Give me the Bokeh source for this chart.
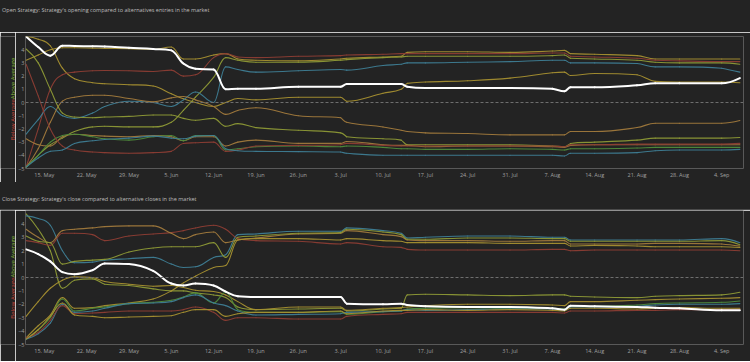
import math
import pandas as pd
from bokeh.plotting import figure
from bokeh.models import FixedTicker, Span, Range1d, CustomJSTickFormatter, Div, ColumnDataSource
from bokeh.core.properties import value
from bokeh.layouts import column, row
from bokeh.embed import file_html
from bokeh.resources import INLINE

# ---------------- data ----------------
DATES = ["2017-05-12", "2017-05-14", "2017-05-16", "2017-05-18", "2017-05-20", "2017-05-23",
         "2017-05-25", "2017-05-29", "2017-06-02", "2017-06-05", "2017-06-07", "2017-06-09",
         "2017-06-12", "2017-06-14", "2017-06-16", "2017-06-19", "2017-06-26", "2017-07-03",
         "2017-07-04", "2017-07-10", "2017-07-13", "2017-07-14", "2017-07-17", "2017-07-24",
         "2017-07-31", "2017-08-07", "2017-08-09", "2017-08-10", "2017-08-14", "2017-08-21",
         "2017-08-24", "2017-08-28", "2017-09-04", "2017-09-07"]

TICK_DATES = ["2017-05-15", "2017-05-22", "2017-05-29", "2017-06-05", "2017-06-12", "2017-06-19",
              "2017-06-26", "2017-07-03", "2017-07-10", "2017-07-17", "2017-07-24", "2017-07-31",
              "2017-08-07", "2017-08-14", "2017-08-21", "2017-08-28", "2017-09-04"]
TICK_LABELS = ["15. May", "22. May", "29. May", "5. Jun", "12. Jun", "19. Jun", "26. Jun",
               "3. Jul", "10. Jul", "17. Jul", "24. Jul", "31. Jul", "7. Aug", "14. Aug",
               "21. Aug", "28. Aug", "4. Sep"]
Y_TICKS = [-5, -4, -3, -2, -1, 0, 1, 2, 3, 4]

TOP_TITLE = "Open Strategy: Strategy's opening compared to alternatives entries in the market"
BOTTOM_TITLE = "Close Strategy: Strategy's close compared to alternative closes in the market"
AXIS_BELOW = "Below Average"
AXIS_ABOVE = "Above Average"

# Open strategy (top panel)
T_AVERAGE = [5.0, 4.2, 3.55, 4.3, 4.28, 4.26, 4.24, 4.14, 4.05, 3.95, 2.95, 2.55, 2.5, 1.0, 1.05, 1.05,
             1.2, 1.2, 1.4, 1.4, 1.4, 1.2, 1.1, 1.1, 1.1, 1.05, 0.85, 1.15, 1.15, 1.3, 1.45, 1.45, 1.45, 1.85]
T_GOLD1 = [5.0, 4.8, 4.3, 2.6, 1.8, 1.5, 1.42, 1.35, 1.25, 0.66, 0.28, 0.0, -0.3, 0.0, 0.3, 0.2,
           0.4, 0.4, 0.1, 0.7, 1.0, 1.45, 1.55, 1.65, 1.85, 2.25, 2.3, 2.05, 2.2, 2.1, 1.6, 1.55, 1.55, 1.5]
T_GOLD2 = [3.2, 3.6, 4.0, 4.15, 4.15, 4.12, 4.1, 4.08, 4.02, 4.2, 3.3, 3.3, 3.6, 3.7, 3.3, 3.2,
           3.15, 3.3, 3.35, 3.45, 3.5, 3.8, 3.85, 3.85, 3.8, 3.9, 3.95, 3.7, 3.65, 3.55, 3.3, 3.3, 3.3, 3.3]
T_RED1 = [-4.9, -2.0, 1.0, 2.1, 2.3, 2.4, 2.42, 2.4, 2.35, 2.45, 2.0, 2.1, 3.4, 3.7, 3.45, 3.4,
          3.5, 3.55, 3.6, 3.65, 3.7, 3.7, 3.7, 3.7, 3.7, 3.75, 3.75, 3.5, 3.45, 3.35, 3.2, 3.15, 3.1, 3.1]
T_OLIVE2 = [-4.9, -4.0, -3.2, -2.7, -2.2, -1.85, -1.8, -1.85, -1.85, -1.5, -0.6, 0.4, 1.9, 3.4, 3.2, 3.05,
            3.05, 3.2, 3.25, 3.4, 3.45, 3.5, 3.5, 3.5, 3.5, 3.55, 3.6, 3.35, 3.3, 3.2, 3.05, 3.0, 3.0, 2.9]
T_TEAL1 = [-2.4, -1.3, -0.3, -1.0, -1.2, -0.8, -0.3, 0.1, 0.0, -0.3, 0.2, 0.8, 0.0, 2.7, 2.5, 2.3,
           2.4, 2.5, 2.45, 2.8, 2.9, 3.0, 3.0, 3.05, 3.1, 3.2, 3.2, 3.0, 3.0, 2.95, 2.7, 2.7, 2.6, 2.3]
T_TAN1 = [-4.9, -3.5, -1.5, 0.1, 0.4, 0.55, 0.55, 0.3, 0.05, 0.35, 0.45, 0.2, -0.3, -0.9, -0.6, -0.4,
          -1.0, -1.15, -1.5, -1.85, -2.1, -2.2, -2.3, -2.35, -2.45, -2.45, -2.45, -2.2, -2.2, -1.9, -1.57,
          -1.57, -1.57, -1.36]
T_OLIVE1 = [4.05, 3.0, 1.0, -0.8, -1.1, -1.15, -1.1, -1.05, -0.95, -0.95, -1.2, -1.35, -1.2, -1.8, -1.6,
            -1.9, -2.1, -2.3, -2.6, -2.75, -2.85, -3.2, -3.2, -3.2, -3.2, -3.3, -3.35, -3.1, -3.0, -2.85,
            -2.7, -2.7, -2.7, -2.65]
T_ORANGE = [-2.75, -3.2, -3.3, -2.6, -2.4, -2.5, -2.55, -2.6, -2.5, -2.6, -2.9, -2.6, -2.6, -3.3, -3.0,
            -2.85, -3.1, -3.1, -2.95, -3.2, -3.25, -3.25, -3.35, -3.3, -3.3, -3.35, -3.4, -3.25, -3.2,
            -3.2, -3.2, -3.2, -3.2, -3.2]
T_GREEN2 = [-4.9, -4.0, -3.0, -2.5, -2.4, -2.6, -2.75, -2.85, -2.6, -2.5, -2.9, -2.5, -2.5, -3.6, -3.5,
            -3.35, -3.3, -3.35, -3.3, -3.4, -3.5, -3.5, -3.55, -3.55, -3.5, -3.55, -3.6, -3.5, -3.5,
            -3.45, -3.4, -3.4, -3.4, -3.4]
T_RED2 = [2.9, 0.5, -2.0, -3.3, -3.6, -3.75, -3.8, -3.85, -3.8, -3.7, -3.1, -3.05, -3.0, -3.7, -3.6,
          -3.3, -3.25, -3.2, -3.1, -3.25, -3.3, -3.3, -3.3, -3.3, -3.3, -3.3, -3.35, -3.2, -3.2, -3.15,
          -3.15, -3.15, -3.15, -3.1]
T_TEAL2 = [-4.9, -4.2, -3.7, -3.6, -3.1, -2.9, -2.8, -2.7, -2.55, -2.7, -2.75, -2.55, -2.5, -3.5, -3.65,
           -3.7, -3.72, -3.75, -3.85, -4.0, -4.0, -4.0, -4.0, -4.0, -4.0, -4.0, -4.05, -3.85, -3.85,
           -3.8, -3.65, -3.6, -3.6, -3.55]

# Close strategy (bottom panel)
B_AVERAGE = [2.1, 1.75, 1.2, 0.4, 0.25, 0.55, 1.05, 1.0, 0.5, -0.45, -0.6, -0.45, -0.6, -1.05, -1.4,
             -1.45, -1.45, -1.45, -1.95, -2.0, -1.95, -2.05, -2.15, -2.2, -2.2, -2.3, -2.4, -2.1, -2.15,
             -2.2, -2.25, -2.3, -2.45, -2.45]
B_GOLD_A = [4.75, 3.6, 2.0, -0.8, -0.2, -0.1, -0.5, -0.6, -0.85, -1.0, -1.0, -1.15, -1.3, -1.5, -2.2,
            -2.4, -2.35, -2.3, -2.5, -2.35, -2.3, -1.3, -1.25, -1.3, -1.35, -1.3, -1.3, -1.4, -1.45,
            -1.5, -1.4, -1.35, -1.3, -1.1]
B_TEAL_A = [4.6, 4.4, 3.9, 2.0, 1.1, 1.15, 1.3, 1.4, 1.5, 1.0, 0.75, 0.8, 1.5, 1.7, 3.2, 3.25,
            3.45, 3.45, 3.7, 3.5, 3.3, 2.95, 3.0, 3.1, 3.1, 3.0, 3.0, 2.8, 2.8, 2.8, 2.8, 2.8, 2.9, 2.6]
B_RED_A = [2.75, 2.6, 2.4, 3.3, 3.3, 3.2, 2.75, 3.1, 3.25, 3.35, 3.5, 3.7, 3.9, 3.6, 2.9, 2.75,
           2.7, 2.5, 2.6, 2.3, 2.25, 2.1, 2.05, 2.05, 2.05, 2.1, 2.1, 2.0, 2.05, 2.05, 2.05, 2.05, 2.05, 2.0]
B_GOLD_B = [3.6, 3.0, 2.6, 3.5, 3.6, 3.7, 3.8, 3.85, 3.85, 3.3, 2.9, 3.2, 3.4, 2.6, 2.8, 2.95,
            3.25, 3.3, 3.5, 3.2, 3.05, 2.8, 2.75, 2.75, 2.7, 2.75, 2.75, 2.5, 2.5, 2.5, 2.55, 2.55, 2.5, 2.35]
B_OLIVE_A = [3.1, 2.7, 2.6, 1.0, 1.2, 1.3, 1.35, 1.9, 2.2, 2.3, 2.3, 2.3, 2.6, 1.5, 3.0, 3.1,
             3.3, 3.35, 3.6, 3.4, 3.2, 2.85, 2.85, 2.95, 2.95, 2.9, 2.9, 2.7, 2.7, 2.7, 2.7, 2.7, 2.75, 2.45]
B_ORANGE = [-4.5, -3.6, -2.8, -1.5, -2.3, -2.25, -2.1, -1.9, -1.6, -1.0, -0.4, 0.1, 0.75, 0.9, 2.8, 2.9,
            2.9, 2.8, 2.9, 2.75, 2.7, 2.6, 2.6, 2.6, 2.55, 2.55, 2.55, 2.35, 2.4, 2.35, 2.3, 2.3, 2.3, 2.25]
B_OLIVE_B = [-2.9, -1.8, -0.8, -0.2, 0.05, 0.0, -0.3, -0.5, -0.65, -0.6, -0.75, -0.95, -1.05, -1.3, -1.8,
             -2.4, -2.2, -2.2, -2.45, -2.3, -2.25, -2.2, -2.1, -2.0, -2.0, -2.05, -2.1, -1.8, -1.8, -1.7,
             -1.65, -1.6, -1.55, -1.5]
B_GREEN_A = [-4.6, -3.9, -3.0, -1.6, -2.5, -2.3, -2.2, -1.95, -1.85, -1.7, -1.45, -1.15, -1.9, -1.1, -2.4,
             -2.6, -2.6, -2.55, -2.75, -2.55, -2.5, -2.35, -2.3, -2.25, -2.3, -2.3, -2.35, -2.15, -2.15,
             -2.05, -1.95, -1.9, -1.85, -1.75]
B_TEAL_B = [-4.6, -4.2, -3.4, -2.0, -2.6, -2.5, -2.3, -1.95, -1.9, -1.8, -1.5, -1.3, -1.9, -2.1, -2.5,
            -2.8, -2.75, -2.7, -2.6, -2.55, -2.5, -2.4, -2.45, -2.4, -2.35, -2.35, -2.4, -2.2, -2.2,
            -2.15, -2.05, -2.0, -2.0, -1.95]
B_RED_B = [-4.5, -4.1, -3.2, -2.1, -2.7, -2.65, -2.6, -2.5, -2.5, -2.5, -2.4, -2.2, -2.6, -3.2, -3.0,
           -3.0, -3.1, -3.1, -2.9, -2.75, -2.7, -2.6, -2.6, -2.6, -2.6, -2.6, -2.65, -2.5, -2.5, -2.45,
           -2.45, -2.4, -2.4, -2.35]
B_GOLD_C = [-4.6, -3.9, -2.9, -1.9, -2.8, -2.9, -3.0, -2.95, -2.9, -2.85, -2.6, -2.4, -2.4, -2.9, -2.7,
            -2.6, -2.6, -2.5, -2.7, -2.5, -2.45, -2.45, -2.4, -2.45, -2.4, -2.45, -2.5, -2.3, -2.3,
            -2.35, -2.3, -2.25, -2.3, -2.3]

# ---------------- styling ----------------
BG = "#232323"
GOLD = "#a58f30"
OLIVE = "#8d9936"
TAN = "#a0793c"
RED = "#8c3d34"
TEAL = "#3e7d94"
GREEN = "#4f8b3b"
FONT = "Open Sans"
DAY_MS = 86400000.0


def to_ms(s):
    return pd.Timestamp(s).value / 1e6


X = [to_ms(d) for d in DATES]
TICKS_MS = [to_ms(d) for d in TICK_DATES]
X0 = X[0] - 0.1 * DAY_MS
X1 = X[-1] + 0.6 * DAY_MS

TOP_LINES = [(T_GOLD1, GOLD), (T_GOLD2, GOLD), (T_RED1, RED), (T_OLIVE2, OLIVE), (T_TEAL1, TEAL),
             (T_TAN1, TAN), (T_OLIVE1, OLIVE), (T_ORANGE, TAN), (T_GREEN2, GREEN), (T_RED2, RED),
             (T_TEAL2, TEAL)]
BOTTOM_LINES = [(B_GOLD_A, OLIVE), (B_TEAL_A, TEAL), (B_RED_A, RED), (B_GOLD_B, TAN), (B_OLIVE_A, OLIVE),
                (B_ORANGE, GOLD), (B_OLIVE_B, GOLD), (B_GREEN_A, GREEN), (B_TEAL_B, TEAL), (B_RED_B, RED),
                (B_GOLD_C, GOLD)]


def spline_source(xs, ys):
    """Spline segments through the data points (same rule as a 'spline' series):
    each point gets a left/right control point, no extra data points are added."""
    n = len(xs)
    sm = 1.5
    den = sm + 1
    left = [None] * n
    right = [None] * n
    for i in range(n):
        px, py = xs[i], ys[i]
        if i == 0 or i == n - 1:
            left[i] = (px, py)
            right[i] = (px, py)
            continue
        lx, ly = xs[i - 1], ys[i - 1]
        nx, ny = xs[i + 1], ys[i + 1]
        lcx = (sm * px + lx) / den
        lcy = (sm * py + ly) / den
        rcx = (sm * px + nx) / den
        rcy = (sm * py + ny) / den
        if rcx != lcx:
            corr = (rcy - lcy) * (rcx - px) / (rcx - lcx) + py - rcy
            lcy += corr
            rcy += corr
            if lcy > ly and lcy > py:
                lcy = max(ly, py)
                rcy = 2 * py - lcy
            elif lcy < ly and lcy < py:
                lcy = min(ly, py)
                rcy = 2 * py - lcy
            if rcy > ny and rcy > py:
                rcy = max(ny, py)
                lcy = 2 * py - rcy
            elif rcy < ny and rcy < py:
                rcy = min(ny, py)
                lcy = 2 * py - rcy
        left[i] = (lcx, lcy)
        right[i] = (rcx, rcy)
    data = dict(x0=[], y0=[], x1=[], y1=[], cx0=[], cy0=[], cx1=[], cy1=[])
    for i in range(1, n):
        data["x0"].append(xs[i - 1])
        data["y0"].append(ys[i - 1])
        data["x1"].append(xs[i])
        data["y1"].append(ys[i])
        data["cx0"].append(right[i - 1][0])
        data["cy0"].append(right[i - 1][1])
        data["cx1"].append(left[i][0])
        data["cy1"].append(left[i][1])
    return ColumnDataSource(data)


def title_div(text, height, pad_top, border):
    inner = ("font-family:'Open Sans';font-size:5.5px;line-height:7px;color:#bdbdbd;"
             f"padding:{pad_top}px 0 0 2px;white-space:nowrap;margin:0;")
    styles = {"background-color": BG, "box-sizing": "border-box", "margin": "0px"}
    if border:
        styles["border-bottom"] = "1px solid #4a4a4a"
    return Div(text=f'<div style="{inner}">{text}</div>', width=750, height=height, styles=styles,
               margin=0)


def label_fig(height, top, bottom, junction):
    p = figure(width=15, height=height, output_backend="svg", toolbar_location=None,
               x_range=Range1d(0, 15), y_range=Range1d(-5, 5), x_axis_location=None,
               y_axis_location=None, background_fill_color=BG, border_fill_color=BG,
               outline_line_color=None, min_border_left=0, min_border_right=0,
               min_border_top=top, min_border_bottom=bottom, margin=0)
    p.grid.visible = False
    p.text(x=[12], y=[junction], text=[AXIS_BELOW], angle=math.pi / 2, text_align="right",
           text_baseline="middle", text_color="#c8433a", text_font=value(FONT), text_font_size="6px")
    p.text(x=[12], y=[junction], text=[AXIS_ABOVE], angle=math.pi / 2, text_align="left",
           text_baseline="middle", text_color="#86b83c", text_font=value(FONT), text_font_size="6px")
    return p


def make_panel(lines, avg, height, top, bottom):
    p = figure(width=735, height=height, x_axis_type="datetime", output_backend="svg",
               toolbar_location=None, x_range=Range1d(X0, X1), y_range=Range1d(-5, 5),
               background_fill_color=BG, border_fill_color=BG, outline_line_color=None,
               min_border_left=7, min_border_right=7, min_border_top=top, min_border_bottom=bottom,
               margin=0)
    p.grid.visible = False

    xa = p.xaxis[0]
    xa.ticker = FixedTicker(ticks=TICKS_MS)
    xa.formatter = CustomJSTickFormatter(args=dict(tick_vals=TICKS_MS, tick_names=TICK_LABELS), code="""
        for (let i = 0; i < tick_vals.length; i++) {
            if (Math.abs(tick_vals[i] - tick) < 3600000) { return tick_names[i]; }
        }
        return "";
    """)
    ya = p.yaxis[0]
    ya.ticker = FixedTicker(ticks=Y_TICKS)
    for ax in (xa, ya):
        ax.axis_line_color = None
        ax.major_tick_line_color = None
        ax.minor_tick_line_color = None
        ax.major_tick_out = 0
        ax.major_tick_in = 0
        ax.minor_tick_out = 0
        ax.minor_tick_in = 0
        ax.major_label_text_font = FONT
        ax.major_label_text_font_size = "5.5px"
        ax.major_label_text_color = "#a0a0a0"
    xa.major_label_standoff = 2
    ya.major_label_standoff = 1

    p.add_layout(Span(location=0, dimension="width", line_color="#6e6e6e", line_width=1, line_dash="3 2"))

    for vals, col in lines:
        p.bezier(x0="x0", y0="y0", x1="x1", y1="y1", cx0="cx0", cy0="cy0", cx1="cx1", cy1="cy1",
                 source=spline_source(X, vals), line_color=col, line_width=1.1, line_alpha=0.95,
                 line_cap="round")
    p.bezier(x0="x0", y0="y0", x1="x1", y1="y1", cx0="cx0", cy0="cy0", cx1="cx1", cy1="cy1",
             source=spline_source(X, avg), line_color="#ffffff", line_width=2, line_cap="round")
    return p


d1 = title_div(TOP_TITLE, 32, 2, False)
p1 = make_panel(TOP_LINES, T_AVERAGE, 150, 4, 14)
l1 = label_fig(150, 4, 14, 0.25)
d2 = title_div(BOTTOM_TITLE, 28, 14, True)
p2 = make_panel(BOTTOM_LINES, B_AVERAGE, 151, 0, 17)
l2 = label_fig(151, 0, 17, 0.0)

layout = column(d1, row(l1, p1, spacing=0, margin=0), d2, row(l2, p2, spacing=0, margin=0),
                spacing=0, margin=0)
open("out.html", "w").write(file_html(layout, INLINE))
